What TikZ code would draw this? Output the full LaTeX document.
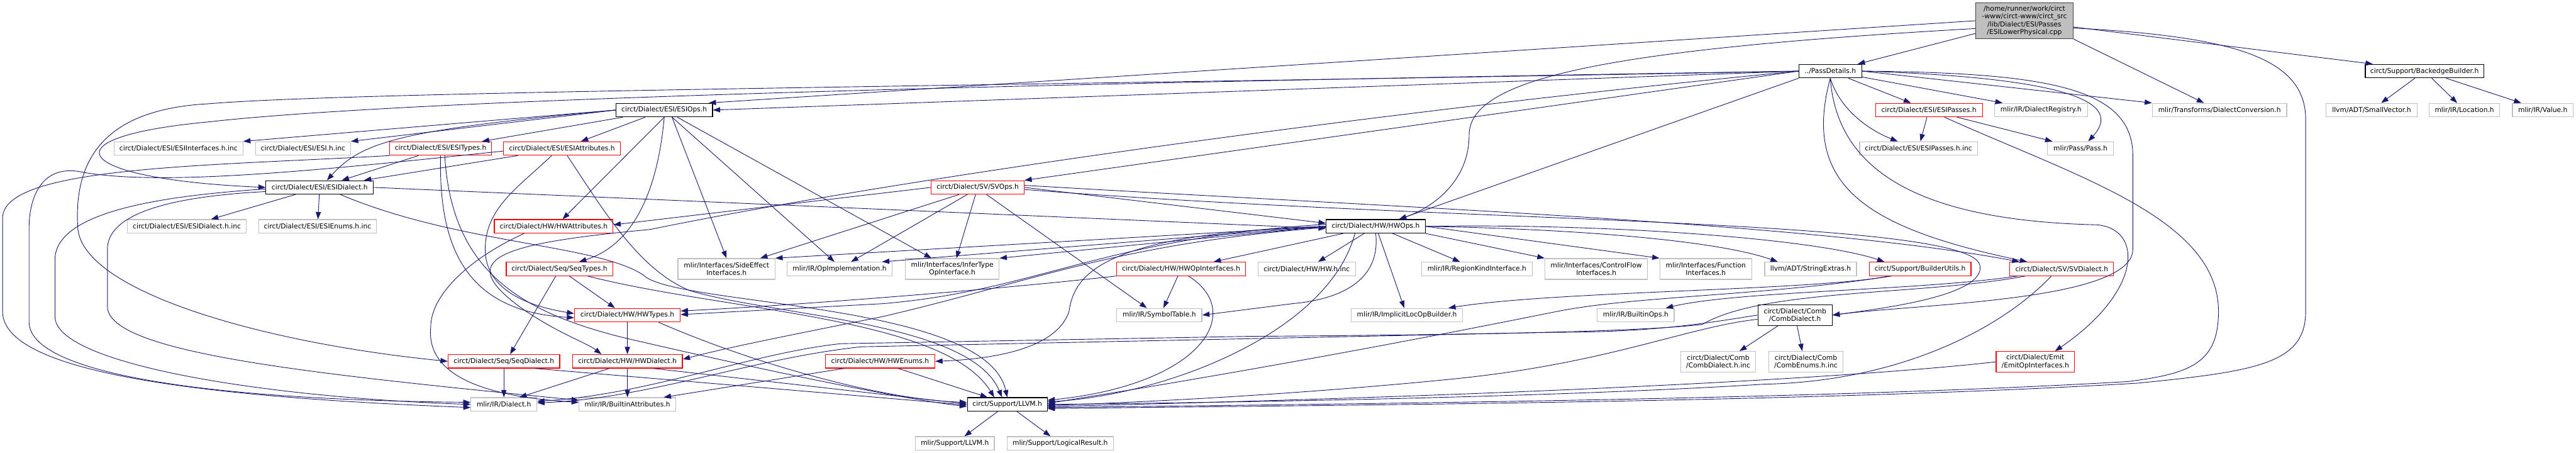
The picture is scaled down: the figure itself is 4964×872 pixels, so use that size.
\documentclass[tikz,border=0pt]{standalone}
\usepackage{fontspec}
\setmainfont{DejaVu Sans}
\usetikzlibrary{arrows.meta}

\definecolor{edgeblue}{HTML}{191970}
\definecolor{extgray}{HTML}{C0C0C0}
\definecolor{focusgray}{HTML}{BFBFBF}

\tikzset{
  hdr/.style={rectangle, draw, inner sep=0pt, minimum height=26pt, line width=1.4pt,
    align=center, font=\fontsize{13}{15}\selectfont},
  docnode/.style={hdr, draw=black},
  rednode/.style={hdr, draw=red},
  extnode/.style={hdr, draw=extgray},
  twoline/.style={minimum height=40pt},
  inc/.style={draw=edgeblue, line width=1.1pt, -{Triangle[length=14pt,width=10pt]}},
}

\begin{document}
\begin{tikzpicture}[x=1pt, y=-1pt]
\useasboundingbox (0,0) rectangle (4964,872);

% the file and its direct headers
\node[hdr, fill=focusgray, draw=black!75, minimum width=188pt, minimum height=69pt] (src) at (3901,40)
  {/home/runner/work/circt\\-www/circt-www/circt\_src\\/lib/Dialect/ESI/Passes\\/ESILowerPhysical.cpp};
\node[docnode, minimum width=121pt] (pass) at (3527,137) {../PassDetails.h};
\node[docnode, minimum width=228pt] (backedge) at (4672,137) {circt/Support/BackedgeBuilder.h};

\node[docnode, minimum width=186pt] (esiops) at (1280,212) {circt/Dialect/ESI/ESIOps.h};
\node[rednode, minimum width=206pt] (esipasses) at (3717,212) {circt/Dialect/ESI/ESIPasses.h};
\node[extnode, minimum width=179pt] (dreg) at (3933,212) {mlir/IR/DialectRegistry.h};
\node[extnode, minimum width=259pt] (dconv) at (4277,212) {mlir/Transforms/DialectConversion.h};
\node[extnode, minimum width=175pt] (smallvec) at (4570,212) {llvm/ADT/SmallVector.h};
\node[extnode, minimum width=136pt] (location) at (4749,212) {mlir/IR/Location.h};
\node[extnode, minimum width=117pt] (value) at (4900,212) {mlir/IR/Value.h};

\node[extnode, minimum width=248pt] (esiintinc) at (344,286) {circt/Dialect/ESI/ESIInterfaces.h.inc};
\node[extnode, minimum width=183pt] (esiinc) at (584,286) {circt/Dialect/ESI/ESI.h.inc};
\node[rednode, minimum width=196pt] (esitypes) at (849,286) {circt/Dialect/ESI/ESITypes.h};
\node[rednode, minimum width=225pt] (esiattr) at (1083,286) {circt/Dialect/ESI/ESIAttributes.h};
\node[extnode, minimum width=227pt] (esipassinc) at (3697,286) {circt/Dialect/ESI/ESIPasses.h.inc};
\node[extnode, minimum width=127pt] (passh) at (4009,286) {mlir/Pass/Pass.h};

\node[docnode, minimum width=207pt] (esidialect) at (616,361) {circt/Dialect/ESI/ESIDialect.h};
\node[rednode, minimum width=179pt] (svops) at (1884,361) {circt/Dialect/SV/SVOps.h};

\node[extnode, minimum width=229pt] (esidialinc) at (360,436) {circt/Dialect/ESI/ESIDialect.h.inc};
\node[extnode, minimum width=226pt] (esienumsinc) at (612,436) {circt/Dialect/ESI/ESIEnums.h.inc};
\node[rednode, minimum width=229pt] (hwattr) at (1067,436) {circt/Dialect/HW/HWAttributes.h};
\node[docnode, minimum width=191pt] (hwops) at (2651,436) {circt/Dialect/HW/HWOps.h};

\node[rednode, minimum width=205pt] (seqtypes) at (1078,518) {circt/Dialect/Seq/SeqTypes.h};
\node[extnode, twoline, minimum width=187pt] (sideeffect) at (1400,518) {mlir/Interfaces/SideEffect\\Interfaces.h};
\node[extnode, minimum width=202pt] (opimpl) at (1618,518) {mlir/IR/OpImplementation.h};
\node[extnode, twoline, minimum width=181pt] (infertype) at (1835,518) {mlir/Interfaces/InferType\\OpInterface.h};
\node[rednode, minimum width=249pt] (hwopint) at (2276,518) {circt/Dialect/HW/HWOpInterfaces.h};
\node[extnode, minimum width=188pt] (hwinc) at (2518,518) {circt/Dialect/HW/HW.h.inc};
\node[extnode, minimum width=213pt] (regionkind) at (2846,518) {mlir/IR/RegionKindInterface.h};
\node[extnode, twoline, minimum width=198pt] (controlflow) at (3076,518) {mlir/Interfaces/ControlFlow\\Interfaces.h};
\node[extnode, twoline, minimum width=177pt] (function) at (3287,518) {mlir/Interfaces/Function\\Interfaces.h};
\node[extnode, minimum width=177pt] (stringextras) at (3489,518) {llvm/ADT/StringExtras.h};
\node[rednode, minimum width=196pt] (builderutils) at (3700,518) {circt/Support/BuilderUtils.h};
\node[rednode, minimum width=200pt] (svdialect) at (3973,518) {circt/Dialect/SV/SVDialect.h};

\node[rednode, minimum width=204pt] (hwtypes) at (1209,607) {circt/Dialect/HW/HWTypes.h};
\node[extnode, minimum width=164pt] (symtab) at (2234,607) {mlir/IR/SymbolTable.h};
\node[extnode, minimum width=215pt] (implicitloc) at (2711,607) {mlir/IR/ImplicitLocOpBuilder.h};
\node[extnode, minimum width=148pt] (builtinops) at (3152,607) {mlir/IR/BuiltinOps.h};
\node[docnode, twoline, minimum width=143pt] (combdialect) at (3459,607) {circt/Dialect/Comb\\/CombDialect.h};

\node[rednode, minimum width=215pt] (seqdialect) at (971,696) {circt/Dialect/Seq/SeqDialect.h};
\node[rednode, minimum width=212pt] (hwdialect) at (1209,696) {circt/Dialect/HW/HWDialect.h};
\node[rednode, minimum width=211pt] (hwenums) at (1696,696) {circt/Dialect/HW/HWEnums.h};
\node[extnode, twoline, minimum width=145pt] (combinc) at (3311,697) {circt/Dialect/Comb\\/CombDialect.h.inc};
\node[extnode, twoline, minimum width=143pt] (combenums) at (3480,697) {circt/Dialect/Comb\\/CombEnums.h.inc};
\node[rednode, twoline, minimum width=151pt] (emit) at (3922,697) {circt/Dialect/Emit\\/EmitOpInterfaces.h};

\node[extnode, minimum width=127pt] (dialecth) at (971,779) {mlir/IR/Dialect.h};
\node[extnode, minimum width=186pt] (builtinattr) at (1209,779) {mlir/IR/BuiltinAttributes.h};
\node[docnode, minimum width=154pt] (llvm) at (1941,779) {circt/Support/LLVM.h};

\node[extnode, minimum width=152pt] (mlirllvm) at (1840,854) {mlir/Support/LLVM.h};
\node[extnode, minimum width=205pt] (logres) at (2043,854) {mlir/Support/LogicalResult.h};

% ESILowerPhysical.cpp
\draw[inc] (src) -- (pass);
\draw[inc] (src.west) -- ([xshift=-8pt]esiops.north east);
\draw[inc] ([yshift=-15pt]src.west) .. controls (3100,95) and (2831,150) .. (2831,260)
  .. controls (2831,350) and (2760,400) .. ([xshift=45pt]hwops.north);
\draw[inc] ([yshift=-12pt]src.east) -- ([xshift=15pt]backedge.north west);
\draw[inc] (src.south east) -- ([xshift=-30pt]dconv.north);
\draw[inc] ([yshift=-14pt]src.east) .. controls (4300,70) and (4443,110) .. (4443,230) -- (4443,600)
  .. controls (4443,700) and (4350,715) .. (4120,738) .. controls (3500,775) and (2600,780) .. ([yshift=-8pt]llvm.east);

% PassDetails.h
\draw[inc] (pass.west) -- (esiops.east);
\draw[inc] (pass.west) .. controls (2000,160) and (800,190) .. (400,235)
  .. controls (80,265) and (140,345) .. (esidialect.west);
\draw[inc] (pass.west) .. controls (2000,165) and (700,175) .. (400,200)
  .. controls (220,210) and (140,290) .. (150,440) .. controls (160,560) and (500,660) .. (seqdialect.west);
\draw[inc] (pass.south west) -- ([xshift=45pt]hwops.north);
\draw[inc] (pass.west) -- (svops.north east);
\draw[inc] (pass.west) .. controls (2600,220) and (1700,350) .. (1253,442)
  .. controls (950,470) and (880,500) .. (1000,590) .. controls (1070,640) and (1130,660) .. ([xshift=-50pt]hwdialect.north);
\draw[inc] (pass.south) .. controls (3470,360) and (3600,440) .. ([xshift=34pt]svdialect.north west);
\draw[inc] (pass) -- (esipasses);
\draw[inc] (pass.south) .. controls (3545,210) and (3600,250) .. ([xshift=-40pt]esipassinc.north);
\draw[inc] (pass) -- (dreg);
\draw[inc] (pass.east) .. controls (4000,150) and (4090,200) .. ([xshift=15pt]passh.north);
\draw[inc] (pass.east) -- (dconv.north west);
\draw[inc] (pass.east) .. controls (3950,140) and (4110,170) .. (4110,300) -- (4110,480)
  .. controls (4110,580) and (3700,585) .. (combdialect.east);
\draw[inc] (pass.south) .. controls (3540,330) and (3700,425) .. (4040,433)
  .. controls (4130,440) and (4130,560) .. ([xshift=38pt]emit.north);

% ESIPasses.h
\draw[inc] (esipasses) -- (esipassinc);
\draw[inc] (esipasses) -- (passh);
\draw[inc] ([xshift=30pt]esipasses.south) .. controls (4000,340) and (4275,420) .. (4275,600)
  .. controls (4275,700) and (4220,720) .. (4100,735) .. controls (3500,770) and (2600,778) .. ([yshift=-6pt]llvm.east);

% BackedgeBuilder.h
\draw[inc] (backedge) -- (smallvec);
\draw[inc] (backedge) -- (location);
\draw[inc] (backedge) -- (value);

% ESIOps.h
\draw[inc] (esiops.west) -- (esiintinc.north east);
\draw[inc] (esiops.west) -- (esiinc.north east);
\draw[inc] (esiops.west) .. controls (780,250) and (700,270) .. ([xshift=14pt]esidialect.north);
\draw[inc] (esiops) -- (esitypes);
\draw[inc] (esiops) -- (esiattr);
\draw[inc] (esiops.south) -- ([xshift=17pt]hwattr.north);
\draw[inc] (esiops.south) .. controls (1268,360) and (1225,470) .. ([xshift=38pt]seqtypes.north);
\draw[inc] ([xshift=15pt]esiops.south) -- (sideeffect.north);
\draw[inc] ([xshift=15pt]esiops.south) -- ([xshift=-10pt]opimpl.north);
\draw[inc] ([xshift=25pt]esiops.south) -- ([xshift=-40pt]infertype.north);

% ESITypes.h
\draw[inc] (esitypes) -- (esidialect);
\draw[inc] (esitypes.south west) .. controls (400,320) and (5,320) .. (5,420) -- (5,600)
  .. controls (5,720) and (400,765) .. ([yshift=-6pt]dialecth.west);
\draw[inc] (esitypes.south) .. controls (845,480) and (900,600) .. ([yshift=-5pt]hwtypes.west);
\draw[inc] ([xshift=8pt]esitypes.south) .. controls (870,520) and (1000,600) .. (1200,650)
  .. controls (1500,720) and (1750,770) .. ([yshift=-4pt]llvm.west);

% ESIAttributes.h
\draw[inc] (esiattr) -- (esidialect);
\draw[inc] ([yshift=-5pt]esiattr.west) .. controls (600,330) and (300,360) .. (150,330)
  .. controls (80,320) and (56,380) .. (56,440) -- (56,620) .. controls (56,720) and (400,770) .. ([yshift=4pt]dialecth.west);
\draw[inc] ([xshift=-20pt]esiattr.south) .. controls (1000,360) and (935,400) .. (935,480)
  .. controls (935,560) and (1020,590) .. ([yshift=3pt]hwtypes.west);
\draw[inc] ([xshift=10pt]esiattr.south) .. controls (1160,400) and (1230,520) .. (1330,560)
  .. controls (1500,610) and (1870,620) .. ([xshift=-10pt]llvm.north);

% ESIDialect.h
\draw[inc] (esidialect) -- (esidialinc);
\draw[inc] (esidialect) -- (esienumsinc);
\draw[inc] ([yshift=-3pt]esidialect.west) .. controls (350,375) and (106,400) .. (106,500) -- (106,610)
  .. controls (106,700) and (500,765) .. (dialecth.west);
\draw[inc] ([yshift=-8pt]esidialect.west) .. controls (300,380) and (207,420) .. (207,480) -- (207,590)
  .. controls (207,680) and (600,720) .. ([yshift=8pt]builtinattr.west);
\draw[inc] (esidialect.east) -- ([yshift=-4pt]hwops.west);
\draw[inc] ([xshift=40pt]esidialect.south) .. controls (880,470) and (1150,470) .. (1240,530)
  .. controls (1300,590) and (1900,580) .. (llvm.north);

% HWAttributes.h
\draw[inc] ([xshift=-57pt]hwattr.south) .. controls (900,500) and (830,570) .. (830,630)
  .. controls (820,730) and (950,765) .. ([yshift=4pt]builtinattr.west);

% SVOps.h
\draw[inc] (svops.west) -- ([yshift=3pt]hwattr.east);
\draw[inc] (svops.east) -- ([yshift=6pt]hwops.west);
\draw[inc] ([xshift=-36pt]svops.south) -- ([xshift=65pt]sideeffect.north);
\draw[inc] ([xshift=-20pt]svops.south) -- ([xshift=22pt]opimpl.north);
\draw[inc] ([xshift=-4pt]svops.south) -- ([xshift=8pt]infertype.north);
\draw[inc] ([xshift=17pt]svops.south) -- ([xshift=-24pt]symtab.north);
\draw[inc] ([yshift=4pt]svops.east) .. controls (2700,400) and (3500,430) .. ([xshift=19pt]svdialect.north west);
\draw[inc] ([yshift=-4pt]svops.east) .. controls (2800,430) and (3790,420) .. (3815,510)
  .. controls (3830,570) and (3620,595) .. (combdialect.east);

% Seq headers
\draw[inc] ([xshift=-7pt]seqtypes.south) -- ([xshift=12pt]seqdialect.north);
\draw[inc] ([xshift=19pt]seqtypes.south) -- ([xshift=-24pt]hwtypes.north);
\draw[inc] ([xshift=54pt]seqtypes.south) .. controls (1400,600) and (1820,610) .. ([xshift=-25pt]llvm.north);
\draw[inc] (seqdialect) -- (dialecth);
\draw[inc] ([xshift=60pt]seqdialect.south) -- ([yshift=-1pt]llvm.west);

% HW headers
\draw[inc] (hwtypes) -- (hwdialect);
\draw[inc] ([xshift=60pt]hwtypes.south) .. controls (1450,700) and (1700,770) .. ([yshift=4pt]llvm.west);
\draw[inc] ([xshift=-35pt]hwdialect.south) -- ([xshift=30pt]dialecth.north);
\draw[inc] (hwdialect) -- (builtinattr);
\draw[inc] ([xshift=50pt]hwdialect.south) -- ([yshift=1pt]llvm.west);
\draw[inc] ([xshift=-70pt]hwenums.south) -- ([xshift=70pt]builtinattr.north);
\draw[inc] ([xshift=35pt]hwenums.south) -- ([xshift=-38pt]llvm.north);

% HWOps.h
\draw[inc] ([yshift=4pt]hwops.west) .. controls (2120,460) and (2000,560) .. (1700,585) -- ([yshift=1pt]hwtypes.east);
\draw[inc] ([yshift=-2pt]hwops.west) .. controls (2150,470) and (2000,540) .. (1700,610)
  .. controls (1500,650) and (1400,670) .. ([yshift=4pt]hwdialect.east);
\draw[inc] (hwops.west) .. controls (2120,450) and (2070,530) .. (2060,600)
  .. controls (2040,660) and (1950,690) .. (hwenums.east);
\draw[inc] (hwops) -- (hwopint);
\draw[inc] (hwops) -- (hwinc);
\draw[inc] (hwops.west) -- ([xshift=-20pt]opimpl.north east);
\draw[inc] (hwops.west) -- (infertype.north east);
\draw[inc] (hwops.west) -- (sideeffect.north east);
\draw[inc] (hwops.south) .. controls (2660,530) and (2600,575) .. (2490,585) -- (symtab.east);
\draw[inc] ([xshift=5pt]hwops.south) -- ([xshift=-5pt]implicitloc.north);
\draw[inc] (hwops) -- (regionkind);
\draw[inc] (hwops.south east) -- (controlflow.north west);
\draw[inc] (hwops.east) -- (function.north west);
\draw[inc] (hwops.east) .. controls (3000,440) and (3300,460) .. ([xshift=26pt]stringextras.north west);
\draw[inc] (hwops.east) .. controls (3100,430) and (3500,460) .. ([xshift=30pt]builderutils.north west);
\draw[inc] ([xshift=-40pt]hwops.south) .. controls (2560,640) and (2250,760) .. ([yshift=5pt]llvm.east);

% HWOpInterfaces.h
\draw[inc] (hwopint) -- ([xshift=8pt]symtab.north);
\draw[inc] (hwopint.south west) .. controls (1900,560) and (1500,590) .. ([yshift=8pt]hwtypes.east);
\draw[inc] ([xshift=14pt]hwopint.south) .. controls (2400,600) and (2320,740) .. ([yshift=8pt]llvm.east);

% SVDialect.h
\draw[inc] ([xshift=-70pt]svdialect.south) .. controls (3700,570) and (3400,555) .. (3280,625)
  .. controls (3150,640) and (2800,645) .. (2400,648) -- (1620,662)
  .. controls (1450,680) and (1250,760) .. ([yshift=6pt]dialecth.east);
\draw[inc] ([xshift=-85pt]svdialect.south) .. controls (3700,560) and (3350,560) .. ([xshift=58pt]builtinops.north);
\draw[inc] ([xshift=-20pt]svdialect.south) .. controls (3850,640) and (3650,735) .. (3400,740)
  .. controls (3000,765) and (2400,775) .. (llvm.east);

% BuilderUtils.h
\draw[inc] ([xshift=-60pt]builderutils.south) .. controls (3500,560) and (3000,560) .. ([xshift=80pt]implicitloc.north);
\draw[inc] ([xshift=-55pt]builderutils.south) .. controls (3400,570) and (3150,570) .. (3000,600)
  .. controls (2850,630) and (2500,700) .. ([yshift=2pt]llvm.east);

% CombDialect.h
\draw[inc] ([xshift=-33pt]combdialect.south) -- ([xshift=41pt]combinc.north);
\draw[inc] ([xshift=4pt]combdialect.south) -- ([xshift=-7pt]combenums.north);
\draw[inc] (combdialect.west) .. controls (3300,620) and (3200,640) .. (3000,640) -- (1660,668)
  .. controls (1450,690) and (1250,768) .. ([yshift=3pt]dialecth.east);
\draw[inc] ([yshift=-8pt]combdialect.west) .. controls (3250,630) and (3100,700) .. (2800,730)
  .. controls (2500,760) and (2200,775) .. ([yshift=-2pt]llvm.east);

% EmitOpInterfaces.h
\draw[inc] (emit.west) .. controls (3600,725) and (3000,760) .. ([yshift=-4pt]llvm.east);

% LLVM.h
\draw[inc] (llvm) -- (mlirllvm);
\draw[inc] (llvm) -- (logres);
\end{tikzpicture}
\end{document}
